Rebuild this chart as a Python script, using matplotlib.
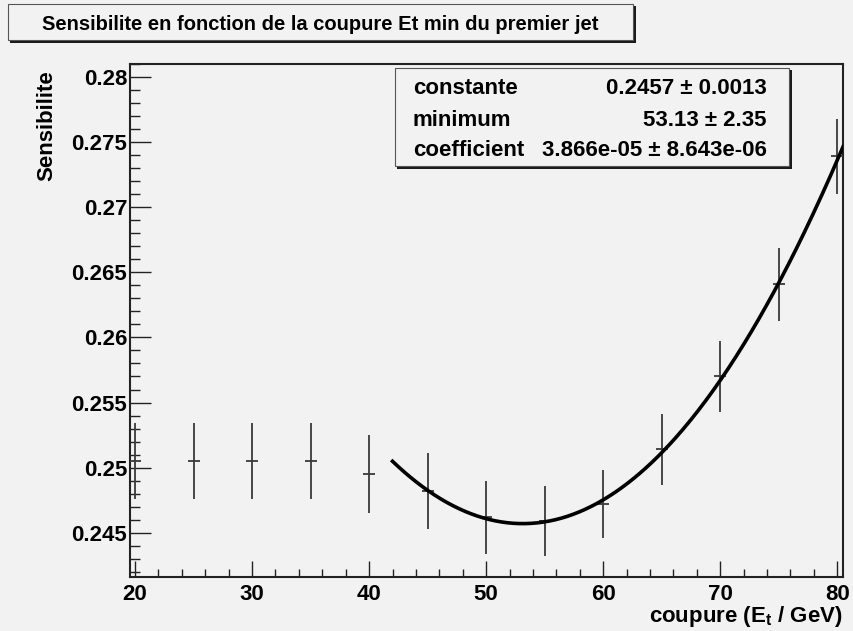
import numpy as np
import matplotlib.pyplot as plt
from matplotlib.patches import Rectangle
from matplotlib.ticker import MultipleLocator

plt.rcParams['font.family'] = ['Liberation Sans', 'DejaVu Sans']
plt.rcParams['font.weight'] = 'bold'
plt.rcParams['mathtext.fontset'] = 'custom'
plt.rcParams['mathtext.rm'] = 'Liberation Sans:bold'
plt.rcParams['mathtext.default'] = 'regular'

# points mesures : coupure Et min du premier jet [GeV]
coupure = [20, 25, 30, 35, 40, 45, 50, 55, 60, 65, 70, 75, 80]
sensibilite = [0.2505, 0.2505, 0.2505, 0.2505, 0.2495, 0.2482, 0.2462,
               0.2459, 0.2472, 0.2514, 0.2570, 0.2641, 0.2739]
erreur = [0.0029, 0.0029, 0.0029, 0.0029, 0.0030, 0.0029, 0.0028,
          0.0027, 0.0026, 0.0027, 0.0027, 0.0028, 0.0029]

# parametres de l'ajustement (boite de stats)
constante, constante_err = 0.2457, 0.0013
minimum, minimum_err = 53.13, 2.35
coefficient, coefficient_err = 3.866e-05, 8.643e-06
fit_min, fit_max = 42.0, 80.5

W, H = 854, 631
BG = '#f2f2f2'


def fx(x):
    return x / W


def fy(y):
    return 1 - y / H


def boite(x0, y0, x1, y1, ombre=2.5):
    # boite ROOT avec ombre en bas a droite
    sh = Rectangle((fx(x0 + ombre), fy(y1 + ombre)), fx(x1 - x0), (y1 - y0) / H,
                   transform=fig.transFigure, facecolor='#1a1a1a',
                   edgecolor='none', zorder=5)
    bx = Rectangle((fx(x0), fy(y1)), fx(x1 - x0), (y1 - y0) / H,
                   transform=fig.transFigure, facecolor=BG,
                   edgecolor='#555555', linewidth=0.8, zorder=6)
    fig.patches.extend([sh, bx])


fig = plt.figure(figsize=(W / 100, H / 100), dpi=100, facecolor=BG)
ax = fig.add_axes([fx(130), fy(577), fx(843 - 130), (577 - 64) / H])
ax.set_facecolor(BG)

ax.errorbar(coupure, sensibilite, yerr=erreur, fmt='none', ecolor='#3a3a3a',
            elinewidth=1.3, capsize=0, zorder=3)
ax.plot(coupure, sensibilite, ls='none', marker='_', ms=8.5, mew=1.3,
        color='#3a3a3a', zorder=3)

xf = np.linspace(fit_min, fit_max, 300)
yf = constante + coefficient * (xf - minimum) ** 2
ax.plot(xf, yf, color='black', lw=2.6, zorder=4)

ax.set_xlim(19.57, 80.49)
ax.set_ylim(0.2416, 0.2810)

ax.xaxis.set_major_locator(MultipleLocator(10))
ax.xaxis.set_minor_locator(MultipleLocator(2))
ax.yaxis.set_major_locator(MultipleLocator(0.005))
ax.yaxis.set_minor_locator(MultipleLocator(0.001))
ax.yaxis.set_major_formatter(plt.FuncFormatter(lambda v, p: ('%.3f' % v).rstrip('0')))

ax.tick_params(axis='both', which='both', direction='in', top=False,
               right=False, width=1.0, color='#222222', labelsize=16)
ax.tick_params(axis='y', which='major', length=15, pad=2)
ax.tick_params(axis='y', which='minor', length=7.5)
ax.tick_params(axis='x', which='major', length=11.5, pad=5)
ax.tick_params(axis='x', which='minor', length=5.5)
for s in ax.spines.values():
    s.set_linewidth(1.5)
    s.set_color('#222222')

fig.text(fx(47), fy(70), 'Sensibilite', rotation=90, ha='center', va='top',
         fontsize=16)
fig.text(fx(843), fy(622), 'coupure (E$_{t}$ / GeV)', ha='right',
         va='baseline', fontsize=16)

# titre
boite(8, 4, 633, 40)
fig.text(fx(320), fy(30), 'Sensibilite en fonction de la coupure Et min du premier jet',
         ha='center', va='baseline', fontsize=14.5, zorder=7)

# boite de stats
boite(395, 68, 789, 166)
lignes = [('constante', '%.4f \u00b1 %.4f' % (constante, constante_err)),
          ('minimum', '%.2f \u00b1 %.2f' % (minimum, minimum_err)),
          ('coefficient', '%.3e \u00b1 %.3e' % (coefficient, coefficient_err))]
for (nom, val), yc in zip(lignes, [88, 120, 151]):
    fig.text(fx(413), fy(yc), nom, ha='left', va='center', fontsize=16, zorder=7)
    fig.text(fx(767), fy(yc), val, ha='right', va='center', fontsize=16, zorder=7)

fig.savefig('out.png', dpi=100, facecolor=BG)
